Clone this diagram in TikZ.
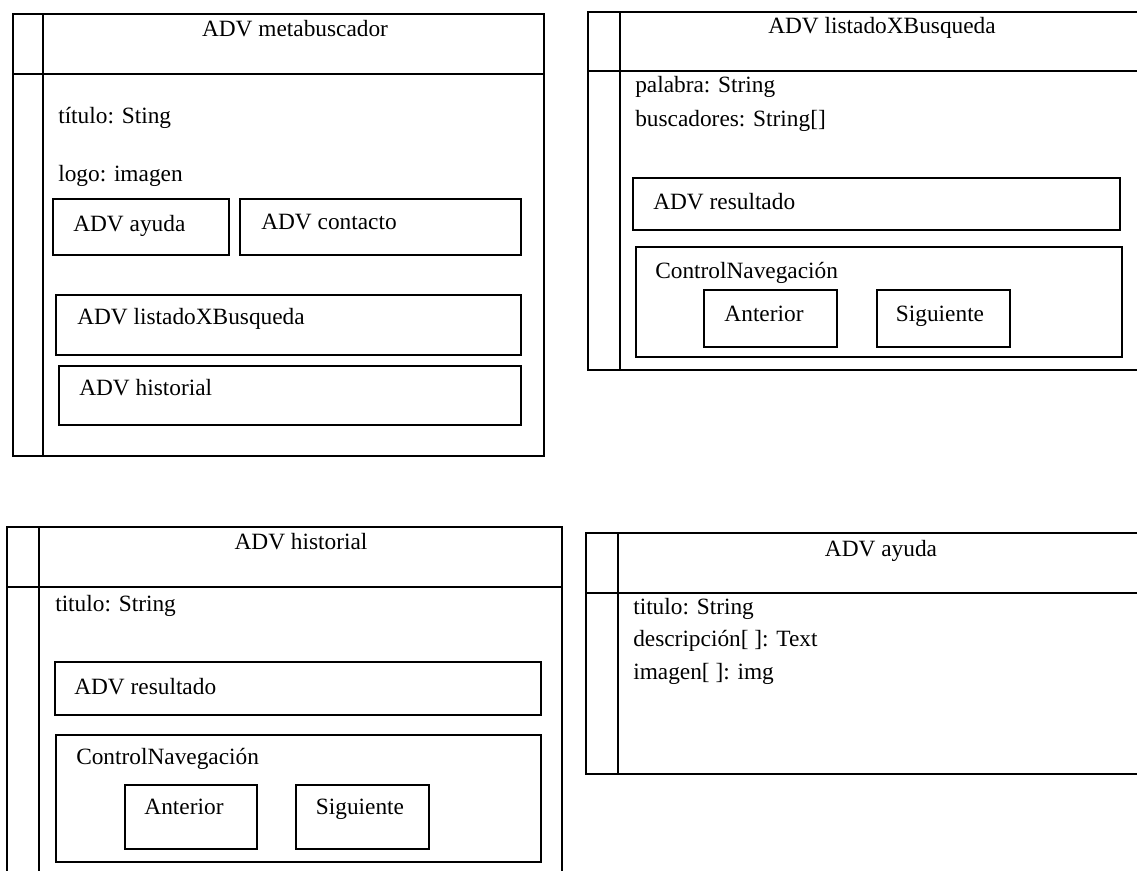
\documentclass[tikz,border=0pt]{standalone}
\usepackage{fontspec}
\setmainfont{Liberation Serif}
\usetikzlibrary{positioning}

\begin{document}
\begin{tikzpicture}[x=0.75pt, y=-0.75pt,
    every node/.style={font=\fontsize{17.5}{21}\selectfont, inner sep=0pt},
    frame/.style={draw, line width=1.2pt},
    hdr/.style={anchor=base},
    lbl/.style={anchor=base west}]
    \path[use as bounding box, fill=white] (0,0) rectangle (1137,870);
    \clip (0,0) rectangle (1137,870);

    % ADV metabuscador
    \draw[frame] (13,14) rectangle (544,456);
    \draw[frame] (43,14) -- (43,456);
    \draw[frame] (13,74) -- (544,74);
    \node[hdr] (metaT) at (295,37) {ADV metabuscador};
    \node[lbl] (metaTit) at (58,123) {título: Sting};
    \node[lbl] (metaLogo) at (58,181) {logo: imagen};
    \draw[frame] (53,199) rectangle (229,255);
    \node[lbl] (metaAyuda) at (73,231) {ADV ayuda};
    \draw[frame] (240,199) rectangle (521,255);
    \node[lbl] (metaContacto) at (261,229) {ADV contacto};
    \draw[frame] (56,295) rectangle (521,355);
    \node[lbl] (metaListado) at (77,324) {ADV listadoXBusqueda};
    \draw[frame] (59,366) rectangle (521,425);
    \node[lbl] (metaHist) at (79,395) {ADV historial};

    % ADV listadoXBusqueda
    \draw[frame] (588,12) rectangle (1150,370);
    \draw[frame] (620,12) -- (620,370);
    \draw[frame] (588,71) -- (1150,71);
    \node[hdr] (listT) at (882,34) {ADV listadoXBusqueda};
    \node[lbl] (listPal) at (635,93) {palabra: String};
    \node[lbl] (listBus) at (635,127) {buscadores: String[]};
    \draw[frame] (633,178) rectangle (1120,230);
    \node[lbl] (listRes) at (653,209) {ADV resultado};
    \draw[frame] (636,247) rectangle (1122,357);
    \node[lbl] (listNav) at (655,278) {ControlNavegación};
    \draw[frame] (704,290) rectangle (837,347);
    \node[hdr] (listAnt) at (764,321) {Anterior};
    \draw[frame] (877,290) rectangle (1010,347);
    \node[hdr] (listSig) at (940,321) {Siguiente};

    % ADV historial
    \draw[frame] (7,527) rectangle (562,885);
    \draw[frame] (39,527) -- (39,885);
    \draw[frame] (7,587) -- (562,587);
    \node[hdr] (histT) at (301,549) {ADV historial};
    \node[lbl] (histTit) at (55,611) {titulo: String};
    \draw[frame] (55,662) rectangle (541,715);
    \node[lbl] (histRes) at (74,694) {ADV resultado};
    \draw[frame] (56,735) rectangle (541,862);
    \node[lbl] (histNav) at (76,764) {ControlNavegación};
    \draw[frame] (125,785) rectangle (257,849);
    \node[hdr] (histAnt) at (184,814) {Anterior};
    \draw[frame] (296,785) rectangle (429,849);
    \node[hdr] (histSig) at (360,814) {Siguiente};

    % ADV ayuda
    \draw[frame] (586,533) rectangle (1150,774);
    \draw[frame] (618,533) -- (618,774);
    \draw[frame] (586,593) -- (1150,593);
    \node[hdr] (ayudaT) at (881,556) {ADV ayuda};
    \node[lbl] (ayudaTit) at (633,614) {titulo: String};
    \node[lbl] (ayudaDesc) at (633,646) {descripción[ ]: Text};
    \node[lbl] (ayudaImg) at (633,679) {imagen[ ]: img};
\end{tikzpicture}
\end{document}
